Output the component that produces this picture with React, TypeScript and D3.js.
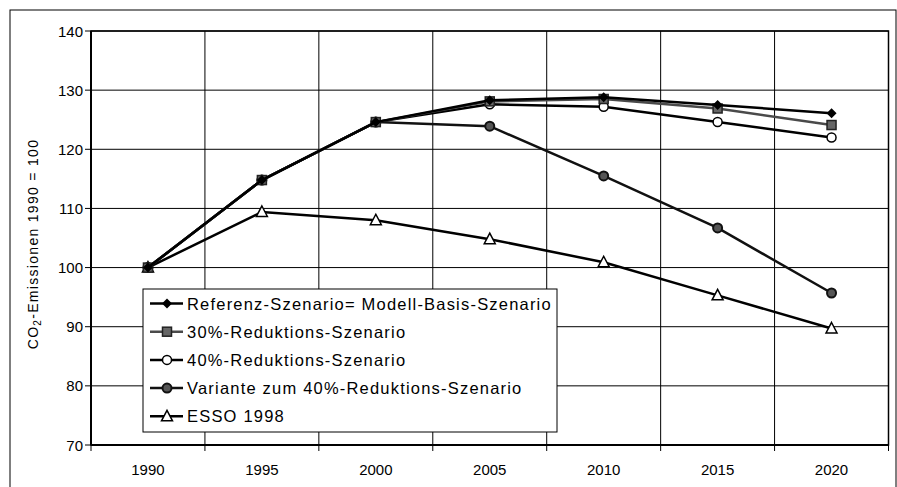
import React from "react";
import * as d3 from "d3";

const years = ["1990", "1995", "2000", "2005", "2010", "2015", "2020"];
const yTicks = [70, 80, 90, 100, 110, 120, 130, 140];
const referenz = [100, 114.8, 124.6, 128.3, 128.8, 127.5, 126.1];
const red30 = [100, 114.8, 124.6, 128.1, 128.5, 126.9, 124.1];
const red40 = [100, 114.8, 124.6, 127.6, 127.2, 124.6, 122.0];
const variante = [100, 114.8, 124.6, 123.9, 115.5, 106.7, 95.7];
const esso = [100, 109.4, 108.0, 104.8, 100.9, 95.3, 89.7];
const legendLabels = [
  "Referenz-Szenario= Modell-Basis-Szenario",
  "30%-Reduktions-Szenario",
  "40%-Reduktions-Szenario",
  "Variante zum 40%-Reduktions-Szenario",
  "ESSO 1998",
];

const W = 897, H = 487;
const L = 91, R = 888.5, T = 31, B = 445;
const font = "'Liberation Sans', Arial, sans-serif";

type Kind = "diamond" | "square" | "circleOpen" | "circleFilled" | "triangle";

const series: { values: number[]; kind: Kind; color: string }[] = [
  { values: esso, kind: "triangle", color: "#000" },
  { values: variante, kind: "circleFilled", color: "#111" },
  { values: red40, kind: "circleOpen", color: "#000" },
  { values: red30, kind: "square", color: "#4a4a4a" },
  { values: referenz, kind: "diamond", color: "#000" },
];
const legendKinds: Kind[] = ["diamond", "square", "circleOpen", "circleFilled", "triangle"];
const legendColors = ["#000", "#4a4a4a", "#000", "#111", "#000"];

function Marker({ kind, x, y }: { kind: Kind; x: number; y: number }) {
  switch (kind) {
    case "diamond":
      return <path d={`M${x},${y - 5}L${x + 5},${y}L${x},${y + 5}L${x - 5},${y}Z`} fill="#000" />;
    case "square":
      return <rect x={x - 4.5} y={y - 4.5} width={9} height={9} fill="#666" stroke="#222" strokeWidth={1.5} />;
    case "circleOpen":
      return <circle cx={x} cy={y} r={4.5} fill="#fff" stroke="#000" strokeWidth={1.5} />;
    case "circleFilled":
      return <circle cx={x} cy={y} r={4.5} fill="#555" stroke="#111" strokeWidth={2} />;
    case "triangle":
      return <path d={`M${x},${y - 6}L${x + 5.5},${y + 4.5}L${x - 5.5},${y + 4.5}Z`} fill="#fff" stroke="#000" strokeWidth={1.5} />;
  }
}

export default function App() {
  const x = d3.scaleBand<string>().domain(years).range([L, R]);
  const y = d3.scaleLinear().domain([70, 140]).range([B, T]);
  const cx = (yr: string) => (x(yr) as number) + x.bandwidth() / 2;
  const line = d3
    .line<number>()
    .x((_, i) => cx(years[i]))
    .y((d) => y(d));
  const boundaries = years.map((yr) => x(yr) as number).concat([R]);

  const lx = 143, ly = 289, lw = 414, lh = 143;
  const rowY0 = 303.5, rowH = 28.2;

  return (
    <svg width={W} height={H} style={{ position: "absolute", left: 0, top: 0, background: "#fff" }} fontFamily={font}>
      <rect x={10} y={10} width={886} height={490} fill="none" stroke="#000" strokeWidth={1} />
      {yTicks.map((t) => (
        <line key={"h" + t} x1={L} x2={R} y1={y(t)} y2={y(t)} stroke="#000" strokeWidth={1} />
      ))}
      {boundaries.map((b, i) => (
        <line key={"v" + i} x1={b} x2={b} y1={T} y2={B} stroke="#000" strokeWidth={1} />
      ))}
      <rect x={L} y={T} width={R - L} height={B - T} fill="none" stroke="#000" strokeWidth={1.5} />
      <line x1={L} x2={L} y1={T} y2={B} stroke="#000" strokeWidth={2} />
      <line x1={L} x2={R} y1={B} y2={B} stroke="#000" strokeWidth={2} />
      {yTicks.map((t) => (
        <g key={"yt" + t}>
          <line x1={L - 6} x2={L} y1={y(t)} y2={y(t)} stroke="#000" strokeWidth={1} />
          <text x={83} y={y(t) + 5.5} textAnchor="end" fontSize={15} fill="#000">
            {t}
          </text>
        </g>
      ))}
      {boundaries.map((b, i) => (
        <line key={"xt" + i} x1={b} x2={b} y1={B} y2={B + 6} stroke="#000" strokeWidth={1} />
      ))}
      {years.map((yr) => (
        <text key={"xl" + yr} x={cx(yr)} y={475} textAnchor="middle" fontSize={15} fill="#000">
          {yr}
        </text>
      ))}
      <text transform={`translate(38,244) rotate(-90)`} textAnchor="middle" fontSize={14} letterSpacing={1.3} fill="#000">
        CO<tspan fontSize={10} dy={3}>2</tspan>
        <tspan dy={-3}>-Emissionen 1990 = 100</tspan>
      </text>
      {series.map((s, si) => (
        <g key={"s" + si}>
          <path d={line(s.values) as string} fill="none" stroke={s.color} strokeWidth={2.5} />
          {s.values.map((v, i) => (
            <Marker key={i} kind={s.kind} x={cx(years[i])} y={y(v)} />
          ))}
        </g>
      ))}
      <rect x={lx} y={ly} width={lw} height={lh} fill="#fff" stroke="#000" strokeWidth={1} />
      {legendLabels.map((lab, i) => {
        const ry = rowY0 + i * rowH;
        return (
          <g key={"lg" + i}>
            <line x1={150} x2={183} y1={ry} y2={ry} stroke={legendColors[i]} strokeWidth={2.5} />
            <Marker kind={legendKinds[i]} x={167} y={ry} />
            <text x={187} y={ry + 6} fontSize={16.5} letterSpacing={1.2} fill="#000">
              {lab}
            </text>
          </g>
        );
      })}
    </svg>
  );
}
